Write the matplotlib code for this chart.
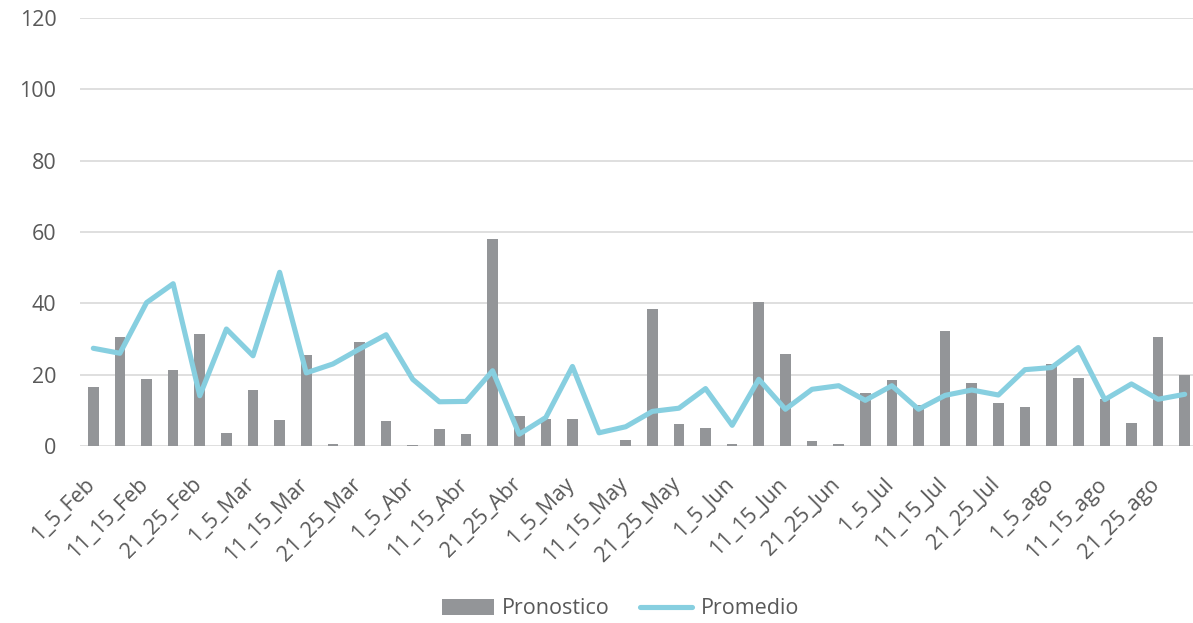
import matplotlib
matplotlib.use("Agg")
import matplotlib.pyplot as plt
import matplotlib.transforms as mtransforms
import numpy as np

# periods: six per month
meses = ["Feb", "Mar", "Abr", "May", "Jun", "Jul", "ago"]
fin_mes = {"Feb": "28", "Mar": "31", "Abr": "30", "May": "31", "Jun": "30", "Jul": "31", "ago": "31"}
periodos = []
for m in meses:
    for p in ["1_5", "6_10", "11_15", "16_20", "21_25", "26_" + fin_mes[m]]:
        periodos.append(p + "_" + m)

pronostico = [16.5, 30.6, 18.8, 21.3, 31.3, 3.7, 15.8, 7.3, 25.5, 0.5, 29.1, 7.0,
              0.2, 4.8, 3.5, 58.1, 8.4, 7.5, 7.7, 0.1, 1.6, 38.5, 6.2, 5.0,
              0.7, 40.4, 25.8, 1.4, 0.6, 14.8, 18.6, 11.5, 32.3, 17.7, 12.0, 11.0,
              23.0, 19.1, 13.3, 6.5, 30.6, 19.8]

promedio = [27.4, 26.0, 40.2, 45.5, 14.1, 32.8, 25.3, 48.7, 20.5, 23.0, 27.2, 31.2,
            18.7, 12.4, 12.5, 21.1, 3.3, 8.0, 22.3, 3.7, 5.4, 9.7, 10.6, 16.1,
            5.8, 18.7, 10.3, 15.9, 16.9, 12.8, 16.9, 10.3, 14.2, 15.7, 14.3, 21.4,
            22.0, 27.6, 13.0, 17.4, 13.1, 14.5]

plt.rcParams['font.family'] = ['Open Sans', 'DejaVu Sans']
texto = '#595959'

fig = plt.figure(figsize=(11.93, 6.23), dpi=100)
ax = fig.add_axes([80 / 1193, 177 / 623, 1118 / 1193, 428 / 623])

x = np.arange(len(periodos))
barras = ax.bar(x, pronostico, width=0.4, color='#939598', label='Pronostico', zorder=2)
linea, = ax.plot(x, promedio, color='#87CFE0', linewidth=3.7, label='Promedio', zorder=3,
                 solid_joinstyle='round', solid_capstyle='round')

ax.set_xlim(-0.5, len(periodos) - 0.5)
ax.set_ylim(0, 120)
ax.set_yticks(np.arange(0, 121, 20))
ax.grid(axis='y', color='#D9D9D9', linewidth=1.2, zorder=0)
ax.set_axisbelow(True)
for s in ax.spines.values():
    s.set_visible(False)

ax.set_xticks(x[::2])
ax.set_xticklabels(periodos[::2], rotation=45, ha='right', va='top')
ax.tick_params(axis='both', length=0, labelsize=15.5, colors=texto)
ax.tick_params(axis='x', pad=20)
ax.tick_params(axis='y', pad=17)
desplaza = mtransforms.ScaledTranslation(6 / 100, 0, fig.dpi_scale_trans)
for lab in ax.get_xticklabels():
    lab.set_transform(lab.get_transform() + desplaza)

leg = fig.legend([barras, linea], ['Pronostico', 'Promedio'], loc='center',
                 bbox_to_anchor=(0.52, (623 - 609) / 623),
                 ncol=2, frameon=False, fontsize=15.5, handlelength=2.4,
                 handleheight=0.7, columnspacing=1.4, handletextpad=0.4)
for t in leg.get_texts():
    t.set_color(texto)

fig.savefig("out.png", dpi=100)
